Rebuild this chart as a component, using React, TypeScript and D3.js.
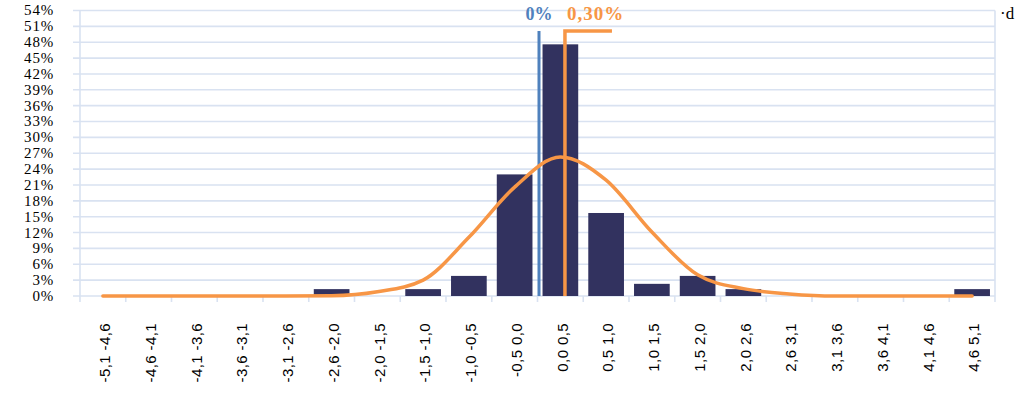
import React from "react";
import * as d3 from "d3";

const categories = [
  "-5,1 -4,6", "-4,6 -4,1", "-4,1 -3,6", "-3,6 -3,1", "-3,1 -2,6",
  "-2,6 -2,0", "-2,0 -1,5", "-1,5 -1,0", "-1,0 -0,5", "-0,5 0,0",
  "0,0 0,5", "0,5 1,0", "1,0 1,5", "1,5 2,0", "2,0 2,6",
  "2,6 3,1", "3,1 3,6", "3,6 4,1", "4,1 4,6", "4,6 5,1",
];
const frequency = [0, 0, 0, 0, 0, 1.3, 0, 1.3, 3.8, 23.0, 47.6, 15.7, 2.3, 3.8, 1.3, 0, 0, 0, 0, 1.3];
const normalCurve = [0, 0, 0, 0, 0, 0.05, 0.8, 3.0, 11.1, 20.6, 26.3, 21.9, 12.1, 4.0, 1.4, 0.4, 0, 0, 0, 0];
const yTicks = d3.range(0, 55, 3);
const zeroValue = 0;
const meanValue = 0.3;
const zeroLabel = "0%";
const meanLabel = "0,30%";

const W = 1017, H = 405;
const left = 80, right = 995, top = 10.5, bottom = 296;
const SERIF = "Liberation Serif, Times New Roman, serif";
const SANS = "Liberation Sans, Arial, sans-serif";

export default function App() {
  const x = d3.scaleBand<string>().domain(categories).range([left, right]).paddingInner(0.22).paddingOuter(0.11);
  const step = x.step();
  const y = d3.scaleLinear().domain([0, 54]).range([bottom, top]);
  const idx0 = categories.indexOf("0,0 0,5");
  const boundary0 = left + idx0 * step;
  const xv = d3.scaleLinear().domain([0, 0.5]).range([boundary0, boundary0 + step]);
  const cx = (c: string) => (x(c) as number) + x.bandwidth() / 2;
  const line = d3.line<number>().x((_, i) => cx(categories[i])).y((d) => y(d)).curve(d3.curveMonotoneX);
  const grid = "#d9e2f1";
  const blue = "#4f81bd";
  const orange = "#f79646";
  const markTop = 31;
  const xZero = xv(zeroValue) + 1.5;
  const xMean = xv(meanValue);

  return (
    <svg width={W} height={H} style={{ position: "absolute", left: 0, top: 0, background: "#fff" }}>
      {yTicks.map((t) => (
        <line key={"g" + t} x1={73} x2={right} y1={y(t)} y2={y(t)} stroke={grid} strokeWidth={1.6} />
      ))}
      <line x1={left} x2={left} y1={top} y2={302} stroke={grid} strokeWidth={1.6} />
      <line x1={right} x2={right} y1={top} y2={302} stroke={grid} strokeWidth={1.6} />
      {d3.range(1, categories.length).map((i) => (
        <line key={"t" + i} x1={left + i * step} x2={left + i * step} y1={bottom} y2={302} stroke={grid} strokeWidth={1.6} />
      ))}
      {yTicks.map((t) => (
        <text key={"yl" + t} x={54} y={y(t)} dy="0.33em" textAnchor="end"
          style={{ fontFamily: SERIF, fontSize: 15, letterSpacing: 0.8 }} fill="#000">
          {t + "%"}
        </text>
      ))}
      {categories.map((c, i) => (
        <rect key={"b" + c} x={x(c)} width={x.bandwidth()} y={y(frequency[i])} height={bottom - y(frequency[i])} fill="#32325f" />
      ))}
      <line x1={xZero} x2={xZero} y1={markTop} y2={bottom} stroke={blue} strokeWidth={3} />
      <path d={line(normalCurve) || ""} fill="none" stroke={orange} strokeWidth={3.5} strokeLinejoin="round" strokeLinecap="round" />
      <path d={`M${xMean},${bottom} L${xMean},${markTop} L${xMean + 47},${markTop}`} fill="none" stroke={orange} strokeWidth={3.5} />
      <text x={xZero} y={20} textAnchor="middle" style={{ fontFamily: SERIF, fontWeight: "bold", fontSize: 18 }} fill={blue}>{zeroLabel}</text>
      <text x={xMean + 2} y={20} style={{ fontFamily: SERIF, fontWeight: "bold", fontSize: 19, letterSpacing: 1 }} fill={orange}>{meanLabel}</text>
      {categories.map((c) => (
        <text key={"xl" + c} transform={`translate(${cx(c) + 2},323) rotate(-90)`} dy="0.35em" textAnchor="end"
          style={{ fontFamily: SANS, fontSize: 15, letterSpacing: 0.4, whiteSpace: "pre" }} fill="#000">
          {c}
        </text>
      ))}
      <text x={1000} y={19} style={{ fontFamily: SERIF, fontSize: 17 }} fill="#000">·d</text>
    </svg>
  );
}
